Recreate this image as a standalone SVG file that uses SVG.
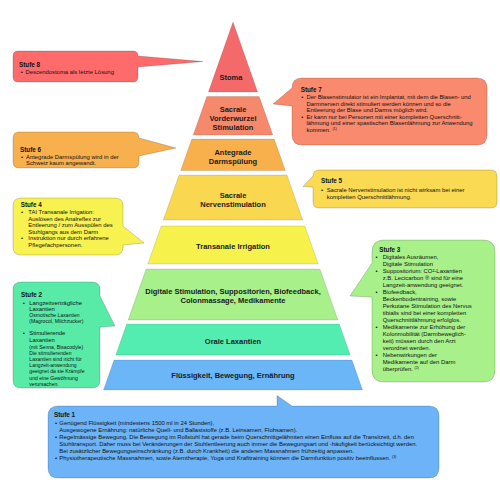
<svg xmlns="http://www.w3.org/2000/svg" width="500" height="500" viewBox="0 0 500 500">
<style>
.lay{stroke:rgba(0,0,0,0.14);stroke-width:0.8}
.co{stroke:rgba(0,0,0,0.22);stroke-width:0.8}
.lbl{font-family:"Liberation Sans",Arial,sans-serif;font-weight:bold;font-size:7.5px;text-anchor:middle;fill:#1a1a1a}
.t{font-family:"Liberation Sans",Arial,sans-serif;fill:#111;font-size:5.9px}
.h{font-weight:bold;font-size:6.3px}
.s{font-size:5.1px}
.sup{font-size:3.5px}
</style>
<rect width="500" height="500" fill="#fff"/>
<g id="pyramid">
<g id="layer8"><polygon class="lay" fill="#F46A6B" points="233,22 257.6,92 208.4,92"/><text class="lbl" x="231" y="79.7">Stoma</text></g>
<g id="layer7"><polygon class="lay" fill="#F6896B" points="206.8,96.5 259.2,96.5 272.8,135 193.2,135"/><text class="lbl" x="233" y="112.2">Sacrale</text><text class="lbl" x="233" y="121.2">Vorderwurzel</text><text class="lbl" x="233" y="130.2">Stimulation</text></g>
<g id="layer6"><polygon class="lay" fill="#F7B04C" points="191.8,139 274.2,139 285.3,170.5 180.7,170.5"/><text class="lbl" x="233" y="155">Antegrade</text><text class="lbl" x="233" y="163.6">Darmspülung</text></g>
<g id="layer5"><polygon class="lay" fill="#F9D84F" points="179.1,175 286.9,175 302.7,220 163.3,220"/><text class="lbl" x="233" y="198.4">Sacrale</text><text class="lbl" x="233" y="207.2">Nervenstimulation</text></g>
<g id="layer4"><polygon class="lay" fill="#F7F24B" points="161.2,226 304.8,226 318.2,264 147.8,264"/><text class="lbl" x="233" y="249.3">Transanale Irrigation</text></g>
<g id="layer3"><polygon class="lay" fill="#A7F08A" points="146.1,269 319.9,269 337.9,320 128.1,320"/><text class="lbl" x="233" y="294.3">Digitale Stimulation, Suppositorien, Biofeedback,</text><text class="lbl" x="233" y="303.3">Colonmassage, Medikamente</text></g>
<g id="layer2"><polygon class="lay" fill="#54EDB1" points="126.7,324 339.3,324 350.2,355 115.8,355"/><text class="lbl" x="233" y="343.7">Orale Laxantien</text></g>
<g id="layer1"><polygon class="lay" fill="#6AB6F7" points="114,360 352,360 362.5,390 103.5,390"/><text class="lbl" x="233" y="378.3">Flüssigkeit, Bewegung, Ernährung</text></g>
</g>
<g id="callouts">
<g id="stufe8">
<path class="co" fill="#FF6B6B" d="M18,51 H133 Q138,51 138,56 L203,61.5 L138,67 V77 Q138,82 133,82 H18 Q13,82 13,77 V56 Q13,51 18,51 Z"/>
<text class="t h" x="19" y="66.5">Stufe 8</text>
<text class="t" y="73.5"><tspan x="20.7">•</tspan><tspan x="25.5">Descendostoma als letzte Lösung</tspan></text>
</g>
<g id="stufe7">
<path class="co" fill="#F98A6D" d="M302,78 H477 Q487,78 487,88 V135 Q487,145 477,145 H302 Q292,145 292,135 V106 L273,104 L292,88 Q292,78 302,78 Z"/>
<text class="t h" x="300.7" y="91.5">Stufe 7</text>
<text class="t"><tspan x="301.3" y="99">•</tspan><tspan x="306.5" y="99">Der Blasenstimulator ist ein Implantat, mit dem die Blasen- und</tspan><tspan x="306.5" y="105.5">Darmnerven direkt stimuliert werden können und so die</tspan><tspan x="306.5" y="112">Entleerung der Blase und Darms möglich wird.</tspan><tspan x="301.3" y="118.5">•</tspan><tspan x="306.5" y="118.5">Er kann nur bei Personen mit einer kompletten Querschnitt-</tspan><tspan x="306.5" y="125">lähmung und einer spastischen Blasenlähmung zur Anwendung</tspan><tspan x="306.5" y="131.5">kommen. </tspan><tspan class="sup" dy="-2">(1)</tspan></text>
</g>
<g id="stufe6">
<path class="co" fill="#F8B04E" d="M19,132 H133 Q139,132 139,138 L176,148 L139,156 V162 Q139,168 133,168 H19 Q13,168 13,162 V138 Q13,132 19,132 Z"/>
<text class="t h" x="20" y="151.5">Stufe 6</text>
<text class="t" font-size="5.6"><tspan x="21" y="158.5">•</tspan><tspan x="26" y="158.5">Antegrade Darmspülung wird in der</tspan><tspan x="26" y="165.3">Schweiz kaum angewandt.</tspan></text>
</g>
<g id="stufe5">
<path class="co" fill="#F9DA52" d="M319,170 H491 Q497,170 497,176 V202 Q497,208 491,208 H319 Q313,208 313,202 V187 L303,186.5 L313,176 Q313,170 319,170 Z"/>
<text class="t h" x="321" y="183.3">Stufe 5</text>
<text class="t"><tspan x="321" y="191.5">•</tspan><tspan x="326.7" y="191.5">Sacrale Nervenstimulation ist nicht wirksam bei einer</tspan><tspan x="326.7" y="199">kompletten Querschnittlähmung.</tspan></text>
</g>
<g id="stufe4">
<path class="co" fill="#F7F24F" d="M21,198 H115 Q123,198 123,206 V226 L144,243 L123,245 V247 Q123,255 115,255 H21 Q13,255 13,247 V206 Q13,198 21,198 Z"/>
<text class="t h" x="20.7" y="207.3">Stufe 4</text>
<text class="t"><tspan x="21" y="214">•</tspan><tspan x="28.3" y="214">TAI Transanale Irrigation:</tspan><tspan x="28.3" y="220.5">Auslösen des Analreflex zur</tspan><tspan x="28.3" y="227">Entleerung / zum Ausspülen des</tspan><tspan x="28.3" y="233.5">Stuhlgangs aus dem Darm</tspan><tspan x="21" y="240.2">•</tspan><tspan x="28.3" y="240.2">Instruktion nur durch erfahrene</tspan><tspan x="28.3" y="246.8">Pflegefachpersonen.</tspan></text>
</g>
<g id="stufe3">
<path class="co" fill="#A7F08A" d="M384,240 H483 Q495,240 495,252 V370 Q495,382 483,382 H384 Q372,382 372,370 V297 L350,296 L372,263 V252 Q372,240 384,240 Z"/>
<text class="t h" x="379.3" y="252">Stufe 3</text>
<text class="t" font-size="6.4"><tspan x="375.5" y="259">•</tspan><tspan x="382.7" y="259">Digitales  Ausräumen,</tspan><tspan x="382.7" y="266">Digitale Stimulation</tspan><tspan x="375.5" y="273">•</tspan><tspan x="382.7" y="273">Suppositorium: CO²-Laxantien</tspan><tspan x="382.7" y="280">z.B. Lecicarbon ®  sind für eine</tspan><tspan x="382.7" y="287">Langzeit-anwendung geeignet.</tspan><tspan x="375.5" y="294">•</tspan><tspan x="382.7" y="294">Biofeedback,</tspan><tspan x="382.7" y="301">Beckenbodentraining, sowie</tspan><tspan x="382.7" y="308">Perkutane Stimulation des Nervus</tspan><tspan x="382.7" y="315">tibialis sind bei einer kompletten</tspan><tspan x="382.7" y="322">Querschnittlähmung erfolglos.</tspan><tspan x="375.5" y="329">•</tspan><tspan x="382.7" y="329">Medikamente zur Erhöhung der</tspan><tspan x="382.7" y="336">Kolonmobilität (Darmbeweglich-</tspan><tspan x="382.7" y="343">keit) müssen durch den Arzt</tspan><tspan x="382.7" y="350">verordnet werden.</tspan><tspan x="375.5" y="357">•</tspan><tspan x="382.7" y="357">Nebenwirkungen der</tspan><tspan x="382.7" y="364">Medikamente auf den Darm</tspan><tspan x="382.7" y="371">überprüfen. </tspan><tspan class="sup" dy="-2">(2)</tspan></text>
</g>
<g id="stufe2">
<path class="co" fill="#58EBA8" d="M21,282 H92 Q100,282 100,290 V296 L115,326 L100,327 V380 Q100,388 92,388 H21 Q13,388 13,380 V290 Q13,282 21,282 Z"/>
<text class="t h" x="21" y="297.3">Stufe 2</text>
<text class="t"><tspan x="22.7" y="304.7">•</tspan><tspan x="29.3" y="304.7">Langzeitverträgliche</tspan><tspan x="29.3" y="310.9">Laxantien</tspan><tspan class="s" x="29.3" y="316.9">Osmotische Laxantien</tspan><tspan class="s" x="29.3" y="323.1">(Magrocol, Milchzucker)</tspan><tspan x="22.7" y="335.3">•</tspan><tspan x="29.3" y="335.3">Stimulierende</tspan><tspan x="29.3" y="341.7">Laxantien</tspan><tspan class="s" x="29.3" y="348.5">(mit Senna, Bisacodyle)</tspan><tspan class="s" x="29.3" y="354.7">Die stimulierenden</tspan><tspan class="s" x="29.3" y="360.9">Laxantien sind nicht für</tspan><tspan class="s" x="29.3" y="367.1">Langzeit-anwendung</tspan><tspan class="s" x="29.3" y="373.3">geeignet da sie Krämpfe</tspan><tspan class="s" x="29.3" y="379.5">und eine Gewöhnung</tspan><tspan class="s" x="29.3" y="385.7">verursachen.</tspan></text>
</g>
<g id="stufe1">
<path class="co" fill="#6DB3F7" d="M58,406 H277 V395.5 L292,406 H429 Q439,406 439,416 V468 Q439,478 429,478 H58 Q48,478 48,468 V416 Q48,406 58,406 Z"/>
<text class="t h" x="54" y="417.3">Stufe 1</text>
<text class="t" font-size="5.8"><tspan x="55" y="425">•</tspan><tspan x="59.3" y="425">Genügend Flüssigkeit (mindestens 1500 ml in 24 Stunden),</tspan><tspan x="59.3" y="432">Ausgewogene Ernährung: natürliche Quell- und Ballaststoffe (z.B. Leinsamen, Flohsamen).</tspan><tspan x="55" y="439">•</tspan><tspan x="59.3" y="439">Regelmässige Bewegung. Die Bewegung im Rollstuhl hat gerade beim Querschnittgelähmten einen Einfluss auf die Transitzeit, d.h. den</tspan><tspan x="59.3" y="446">Stuhltransport. Daher muss bei Veränderungen der Stuhlentleerung auch immer die Bewegungsart und -häufigkeit berücksichtigt werden.</tspan><tspan x="59.3" y="453">Bei zusätzlicher Bewegungseinschränkung (z.B. durch Krankheit) die anderen Massnahmen frühzeitig anpassen.</tspan><tspan x="55" y="460">•</tspan><tspan x="59.3" y="460">Physiotherapeutische Massnahmen, sowie Atemtherapie, Yoga und Krafttraining können die Darmfunktion positiv beeinflussen. </tspan><tspan class="sup" dy="-2">(3)</tspan></text>
</g>
</g>
</svg>
